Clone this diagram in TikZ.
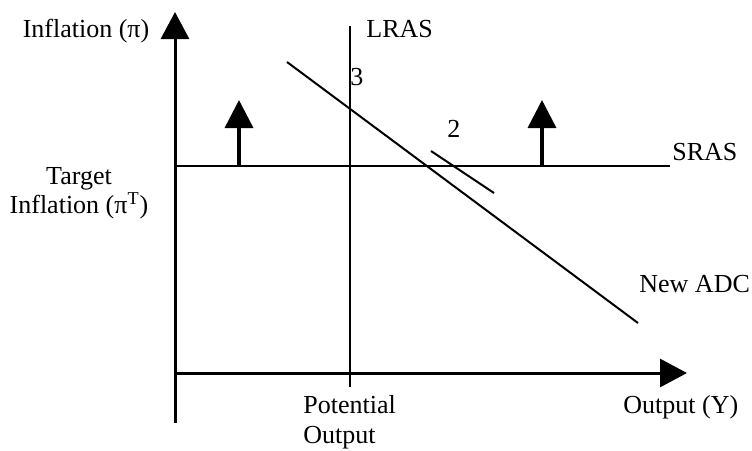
\documentclass[tikz,border=0pt]{standalone}
\usepackage{fontspec}
\setmainfont{Liberation Serif}
\usetikzlibrary{arrows.meta,positioning}

\begin{document}
\begin{tikzpicture}[
  x=0.5pt, y=-0.5pt,
  axis/.style={-{Triangle[length=13.5pt,width=14pt]}, line width=1.5pt},
  curve/.style={line width=1pt},
  thinline/.style={line width=0.8pt},
  moveup/.style={-{Triangle[length=14pt,width=14pt]}, line width=1.7pt},
  lbl/.style={inner sep=0pt, font=\fontsize{13}{14.5}\selectfont}
]
\useasboundingbox (0,0) rectangle (752,451);
% axes
\coordinate (origin) at (175,423);
\coordinate (ytop) at (175,12);
\coordinate (xleft) at (175,373);
\coordinate (xright) at (687,373);
\draw[axis] (origin) -- (ytop);
\draw[axis] (xleft) -- (xright);
% LRAS and SRAS
\coordinate (lrastop) at (350,26);
\coordinate (lrasbot) at (350,387);
\draw[thinline] (lrastop) -- (lrasbot);
\coordinate (srasleft) at (175,166);
\coordinate (srasright) at (670,166);
\draw[curve] (srasleft) -- (srasright);
% upward shift of SRAS
\coordinate (moveA) at (239,166);
\coordinate (tipA) at (239,100);
\coordinate (moveB) at (542,166);
\coordinate (tipB) at (542,100);
\draw[moveup] (moveA) -- (tipA);
\draw[moveup] (moveB) -- (tipB);
% demand curves
\coordinate (adcA) at (287,62);
\coordinate (adcB) at (638,323);
\draw[curve] (adcA) -- (adcB);
\coordinate (oldA) at (431,151);
\coordinate (oldB) at (494,193);
\draw[curve] (oldA) -- (oldB);
% labels
\node[lbl, anchor=base] (ylabel) at (86,37) {Inflation (π)};
\node[lbl, anchor=base west] (lras) at (366,37) {LRAS};
\node[lbl, anchor=base west] (pt3) at (350,85) {3};
\node[lbl, anchor=base west] (pt2) at (447,137) {2};
\node[lbl, anchor=base west] (sras) at (672,160) {SRAS};
\node[lbl, align=center] (target) at (79,193) {Target\\Inflation (π\textsuperscript{T})};
\node[lbl, anchor=base west] (adc) at (639,292) {New ADC};
\node[lbl, align=left, font=\fontsize{13}{15}\selectfont, anchor=west] (potential) at (303,422) {Potential\\Output};
\node[lbl, anchor=base west] (xlabel) at (623,413) {Output (Y)};
\end{tikzpicture}
\end{document}
